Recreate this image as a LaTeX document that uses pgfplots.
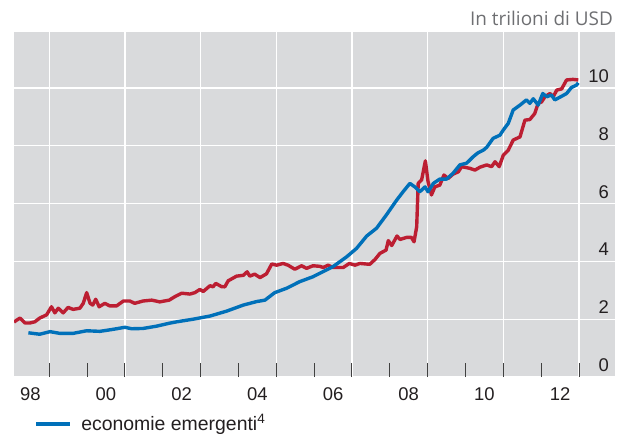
\documentclass[border=0pt]{standalone}
\usepackage{pgfplots}
\pgfplotsset{compat=1.18}
\usepackage{fontspec}
\setmainfont{Liberation Sans}
\newfontfamily\titlefont{Open Sans}
\definecolor{bgray}{RGB}{217,218,220}
\definecolor{bisred}{RGB}{188,30,50}
\definecolor{bisblue}{RGB}{0,112,185}
\definecolor{ticktxt}{RGB}{35,31,32}
\definecolor{titlegray}{RGB}{110,111,114}

\begin{document}
\fontsize{18.5}{22}\selectfont
\begin{tikzpicture}
\begin{axis}[
  at={(14bp,57bp)}, anchor=south west,
  scale only axis, width=601bp, height=345bp,
  xmin=1998.07, xmax=2013.95, ymin=0, ymax=11.94,
  axis background/.style={fill=bgray},
  axis line style={draw=none},
  clip=true,
  xtick={1999,2001,2003,2005,2007,2009,2011,2013},
  minor xtick={2000,2002,2004,2006,2008,2010,2012},
  xticklabels={},
  extra x ticks={1998.5,2000.5,2002.5,2004.5,2006.5,2008.5,2010.5,2012.5},
  extra x tick labels={98,00,02,04,06,08,10,12},
  extra x tick style={grid=none, major tick length=0pt, xticklabel style={anchor=base, yshift=-23.5bp}},
  xtick pos=bottom, tick align=inside,
  major tick length=14bp, minor tick length=14bp,
  xtick style={draw=black!75, line width=1bp},
  minor tick style={draw=black!75, line width=1bp},
  ytick={0,2,4,6,8,10},
  yticklabels={0,2,4,6,8,10},
  ytick pos=right, yticklabel pos=right,
  ytick style={draw=none},
  yticklabel style={anchor=base east, inner sep=0pt, xshift=-6bp, yshift=5.5bp},
  ticklabel style={text=ticktxt, font=\fontsize{18.5}{22}\selectfont},
  /pgf/number format/assume math mode=true,
  grid=major, major grid style={white, line width=1.3bp},
  legend style={at={(axis description cs:0.0335,-0.135)}, anchor=west, draw=none, fill=none, inner sep=0pt,
    font=\fontsize{19.5}{23}\selectfont, text=ticktxt,
    /tikz/every odd column/.append style={column sep=7bp}},
  legend cell align=left,
  legend image code/.code={\draw[#1, line width=4bp] (0bp,0bp) -- (34bp,0bp);},
]
\addplot[bisred, line width=3.4bp, line join=round, forget plot] coordinates {
(1998.07,1.90) (1998.12,1.95) (1998.23,2.04) (1998.36,1.87) (1998.49,1.87) (1998.62,1.91)
(1998.75,2.04) (1998.93,2.15) (1999.06,2.43) (1999.15,2.22) (1999.24,2.38) (1999.37,2.22)
(1999.50,2.41) (1999.63,2.34) (1999.81,2.38) (1999.90,2.55) (1999.99,2.92) (2000.08,2.55)
(2000.15,2.49) (2000.23,2.69) (2000.32,2.43) (2000.47,2.55) (2000.60,2.46) (2000.78,2.46)
(2000.96,2.63) (2001.13,2.63) (2001.26,2.55) (2001.48,2.63) (2001.71,2.66) (2001.92,2.60)
(2002.17,2.66) (2002.32,2.78) (2002.50,2.90) (2002.72,2.87) (2002.85,2.92) (2002.98,3.03)
(2003.07,2.96) (2003.25,3.16) (2003.33,3.12) (2003.40,3.24) (2003.55,3.13) (2003.64,3.12)
(2003.73,3.33) (2003.95,3.49) (2004.13,3.52) (2004.23,3.64) (2004.30,3.49) (2004.43,3.56)
(2004.57,3.44) (2004.74,3.57) (2004.88,3.91) (2005.01,3.87) (2005.18,3.93) (2005.31,3.87)
(2005.49,3.73) (2005.67,3.85) (2005.80,3.76) (2005.97,3.85) (2006.15,3.83) (2006.24,3.79)
(2006.37,3.87) (2006.50,3.79) (2006.77,3.79) (2006.93,3.93) (2007.08,3.87) (2007.21,3.93)
(2007.47,3.90) (2007.61,4.07) (2007.74,4.28) (2007.90,4.39) (2007.96,4.72) (2008.05,4.55)
(2008.19,4.88) (2008.27,4.76) (2008.44,4.83) (2008.57,4.83) (2008.64,4.68) (2008.71,5.20)
(2008.75,6.70) (2008.84,6.82) (2008.94,7.48) (2009.01,6.76) (2009.10,6.30) (2009.19,6.58)
(2009.32,6.64) (2009.43,6.99) (2009.54,6.87) (2009.67,7.02) (2009.81,7.10) (2009.90,7.28)
(2010.12,7.22) (2010.25,7.16) (2010.38,7.26) (2010.56,7.34) (2010.69,7.28) (2010.78,7.45)
(2010.89,7.28) (2011.00,7.68) (2011.13,7.85) (2011.26,8.20) (2011.44,8.31) (2011.57,8.89)
(2011.70,8.91) (2011.83,9.12) (2011.92,9.47) (2012.01,9.52) (2012.10,9.70) (2012.23,9.81)
(2012.32,9.70) (2012.41,9.93) (2012.54,9.97) (2012.67,10.28) (2012.84,10.30) (2012.98,10.28)
};
\addplot[bisblue, line width=3.4bp, line join=round] coordinates {
(1998.45,1.53) (1998.75,1.48) (1999.02,1.57) (1999.28,1.51) (1999.63,1.51) (1999.99,1.60)
(2000.34,1.58) (2000.69,1.65) (2001.00,1.72) (2001.18,1.67) (2001.48,1.68) (2001.84,1.76)
(2002.17,1.86) (2002.37,1.91) (2002.80,2.00) (2003.25,2.11) (2003.69,2.28) (2004.13,2.49)
(2004.48,2.61) (2004.70,2.66) (2004.96,2.92) (2005.27,3.07) (2005.62,3.30) (2005.97,3.47)
(2006.15,3.59) (2006.50,3.82) (2006.86,4.16) (2007.12,4.45) (2007.39,4.88) (2007.65,5.15)
(2007.91,5.61) (2008.18,6.12) (2008.35,6.41) (2008.53,6.70) (2008.66,6.58) (2008.79,6.41)
(2008.93,6.58) (2009.01,6.41) (2009.15,6.70) (2009.32,6.85) (2009.50,6.85) (2009.67,7.05)
(2009.85,7.34) (2010.03,7.40) (2010.20,7.62) (2010.33,7.76) (2010.47,7.85) (2010.56,7.95)
(2010.73,8.26) (2010.91,8.37) (2011.00,8.55) (2011.13,8.78) (2011.26,9.24) (2011.44,9.41)
(2011.61,9.59) (2011.70,9.47) (2011.79,9.63) (2011.92,9.41) (2012.04,9.81) (2012.15,9.70)
(2012.27,9.76) (2012.36,9.59) (2012.49,9.68) (2012.67,9.81) (2012.80,10.02) (2012.93,10.10)
(2012.98,10.18)
};
\addlegendentry{economie emergenti\textsuperscript{4}}
\end{axis}
\node[anchor=base east, text=titlegray, font=\titlefont\fontsize{19}{22}\selectfont, inner sep=0pt] at (613bp,408bp) {In trilioni di USD};
\pgfresetboundingbox
\useasboundingbox (0,0) rectangle (625bp,434bp);
\end{tikzpicture}
\end{document}
